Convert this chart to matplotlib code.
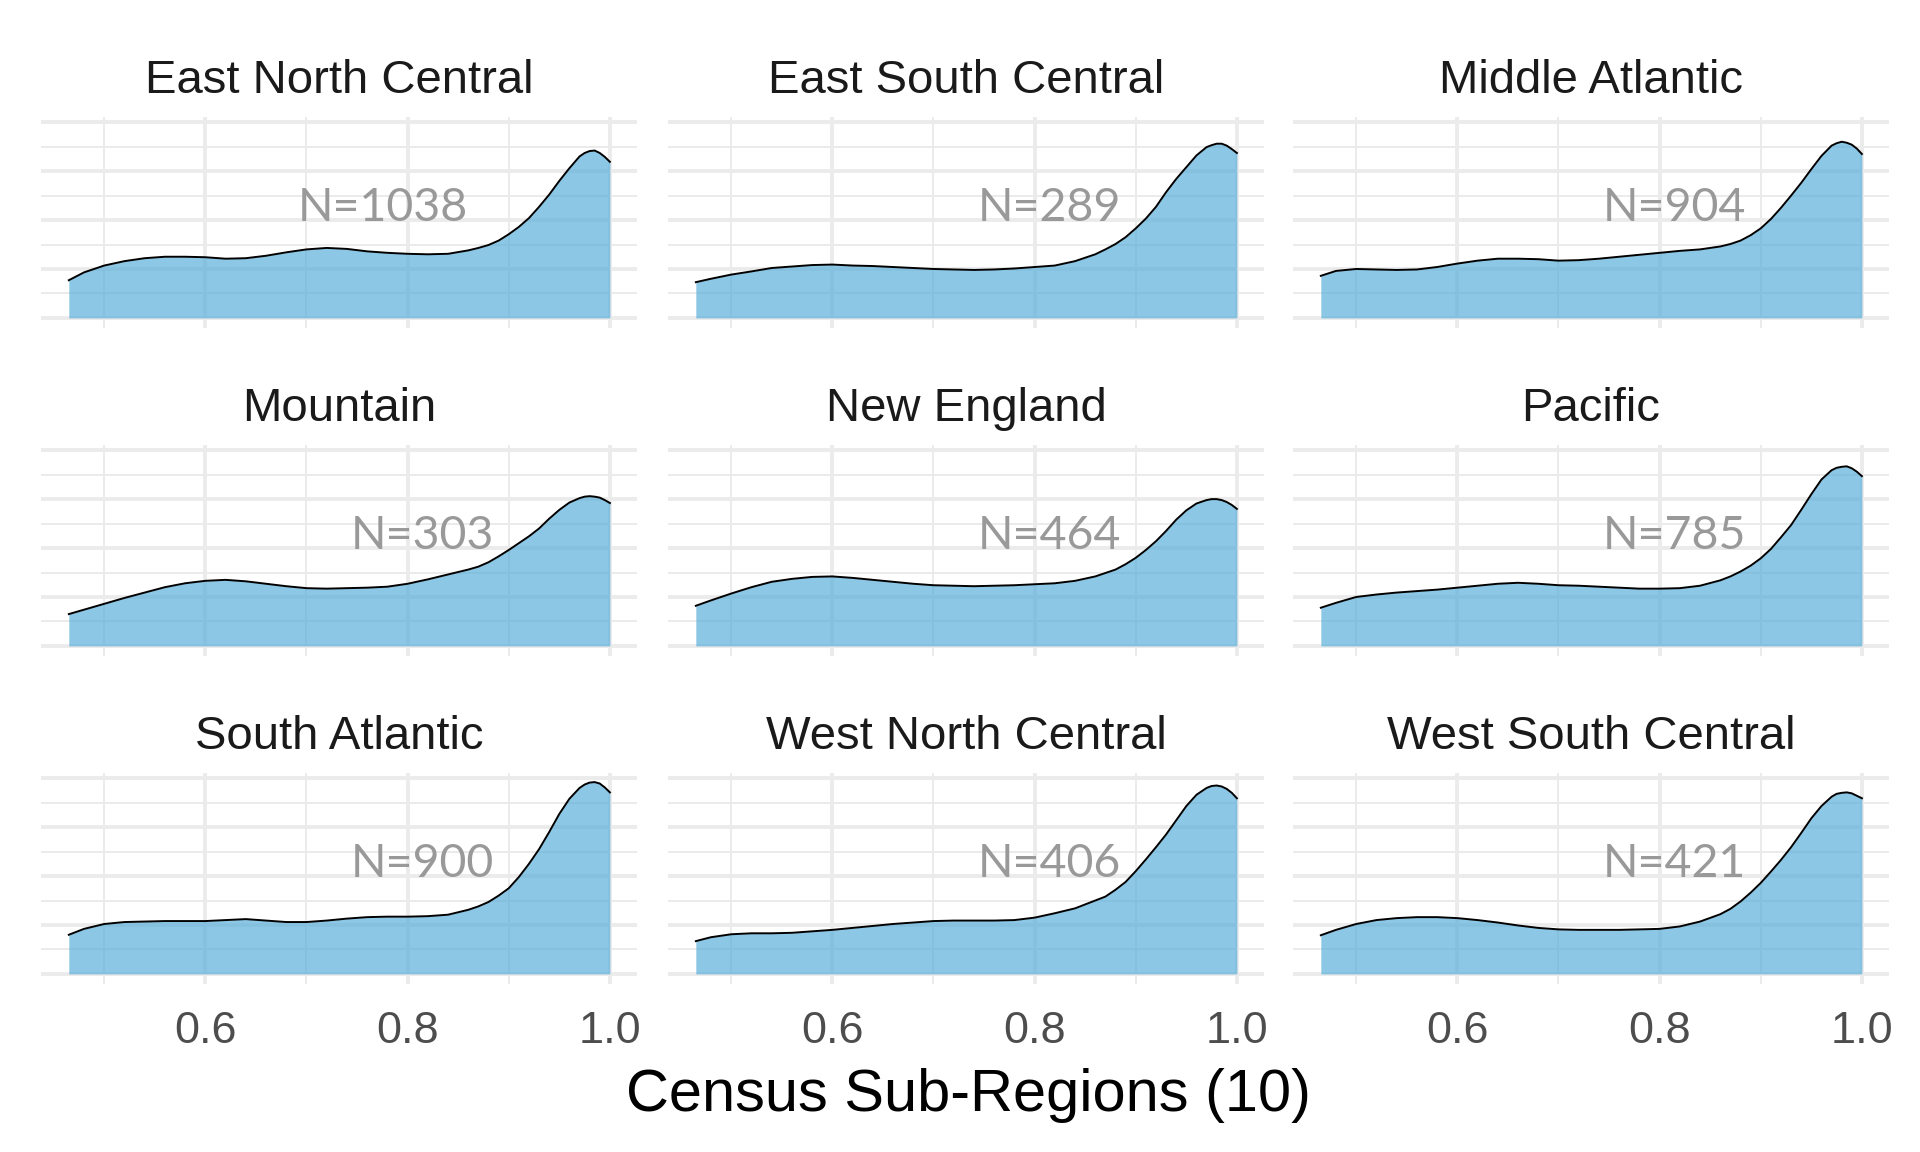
import matplotlib
matplotlib.use("Agg")
import matplotlib.pyplot as plt

regions = ["East North Central", "East South Central", "Middle Atlantic",
           "Mountain", "New England", "Pacific",
           "South Atlantic", "West North Central", "West South Central"]
counts = [1038, 289, 904, 303, 464, 785, 900, 406, 421]

x_pts = [0.465, 0.48, 0.50, 0.52, 0.54, 0.56, 0.58, 0.60, 0.62, 0.64, 0.66,
         0.68, 0.70, 0.72, 0.74, 0.76, 0.78, 0.80, 0.82, 0.84, 0.86, 0.87,
         0.88, 0.89, 0.90, 0.91, 0.92, 0.93, 0.94, 0.95, 0.96, 0.97, 0.975,
         0.98, 0.985, 0.99, 0.995, 1.0]

enc = [0.77, 0.93, 1.07, 1.16, 1.22, 1.25, 1.25, 1.24, 1.21, 1.22, 1.27,
       1.34, 1.40, 1.43, 1.41, 1.36, 1.33, 1.31, 1.30, 1.31, 1.38, 1.43,
       1.49, 1.58, 1.71, 1.86, 2.04, 2.27, 2.52, 2.80, 3.06, 3.30, 3.37,
       3.41, 3.42, 3.37, 3.29, 3.19]
esc = [0.73, 0.80, 0.885, 0.95, 1.02, 1.05, 1.08, 1.09, 1.07, 1.06, 1.04,
       1.02, 1.00, 0.99, 0.98, 0.99, 1.01, 1.04, 1.07, 1.16, 1.30, 1.40,
       1.51, 1.65, 1.83, 2.03, 2.27, 2.57, 2.84, 3.08, 3.32, 3.49, 3.53,
       3.56, 3.56, 3.52, 3.45, 3.37]
mat = [0.86, 0.96, 1.00, 0.99, 0.98, 0.99, 1.04, 1.11, 1.17, 1.21, 1.21,
       1.20, 1.17, 1.18, 1.21, 1.25, 1.29, 1.33, 1.37, 1.40, 1.46, 1.51,
       1.58, 1.69, 1.83, 2.02, 2.25, 2.50, 2.76, 3.04, 3.31, 3.52, 3.57,
       3.60, 3.58, 3.54, 3.46, 3.35]
mtn = [0.65, 0.74, 0.86, 0.98, 1.09, 1.20, 1.28, 1.33, 1.35, 1.32, 1.27,
       1.22, 1.18, 1.17, 1.18, 1.19, 1.21, 1.27, 1.36, 1.46, 1.56, 1.62,
       1.71, 1.83, 1.96, 2.10, 2.24, 2.40, 2.60, 2.78, 2.93, 3.02, 3.05,
       3.06, 3.05, 3.03, 2.98, 2.92]
nen = [0.82, 0.93, 1.07, 1.20, 1.31, 1.37, 1.41, 1.42, 1.39, 1.35, 1.31,
       1.27, 1.24, 1.23, 1.22, 1.23, 1.24, 1.26, 1.28, 1.33, 1.42, 1.49,
       1.56, 1.67, 1.80, 1.96, 2.14, 2.35, 2.58, 2.77, 2.91, 2.98, 3.00,
       3.00, 2.98, 2.94, 2.88, 2.80]
pac = [0.78, 0.88, 1.00, 1.05, 1.09, 1.12, 1.15, 1.19, 1.23, 1.27, 1.29,
       1.27, 1.24, 1.23, 1.21, 1.19, 1.17, 1.17, 1.18, 1.23, 1.34, 1.42,
       1.52, 1.64, 1.79, 1.98, 2.22, 2.47, 2.78, 3.10, 3.40, 3.59, 3.64,
       3.66, 3.67, 3.63, 3.56, 3.47]
sat = [0.80, 0.92, 1.02, 1.06, 1.07, 1.08, 1.08, 1.08, 1.10, 1.12, 1.09,
       1.06, 1.06, 1.09, 1.13, 1.16, 1.17, 1.17, 1.18, 1.21, 1.31, 1.38,
       1.47, 1.60, 1.75, 1.98, 2.25, 2.55, 2.90, 3.27, 3.58, 3.80, 3.87,
       3.91, 3.92, 3.89, 3.81, 3.71]
wnc = [0.67, 0.75, 0.81, 0.83, 0.83, 0.84, 0.87, 0.90, 0.94, 0.98, 1.02,
       1.05, 1.08, 1.09, 1.09, 1.09, 1.10, 1.15, 1.24, 1.34, 1.50, 1.58,
       1.72, 1.88, 2.10, 2.34, 2.59, 2.85, 3.14, 3.43, 3.66, 3.80, 3.84,
       3.85, 3.83, 3.78, 3.70, 3.59]
wsc = [0.79, 0.90, 1.02, 1.10, 1.14, 1.16, 1.16, 1.14, 1.10, 1.05, 0.99,
       0.94, 0.91, 0.90, 0.90, 0.90, 0.91, 0.92, 0.97, 1.07, 1.22, 1.33,
       1.48, 1.66, 1.86, 2.09, 2.33, 2.59, 2.88, 3.18, 3.43, 3.62, 3.68,
       3.70, 3.71, 3.69, 3.64, 3.59]

densities = [enc, esc, mat, mtn, nen, pac, sat, wnc, wsc]

# where the N= labels sit (centre x, baseline y) in data units
label_x = [0.776, 0.815, 0.815, 0.815, 0.815, 0.815, 0.815, 0.815, 0.815]
label_y = 1.98

W, H = 1920, 1152
fig = plt.figure(figsize=(W / 100, H / 100), dpi=100)

col_left = [41, 668, 1293]
row_top = [116.5, 444.5, 772.5]
pw, ph = 596, 211

fill = "#4FAAD9"
grid_c = "#EBEBEB"

for i, name in enumerate(regions):
    r, c = divmod(i, 3)
    ax = fig.add_axes([col_left[c] / W, 1 - (row_top[r] + ph) / H, pw / W, ph / H])
    ax.fill_between(x_pts, 0, densities[i], color=fill, alpha=0.65, lw=0, zorder=2)
    ax.plot(x_pts, densities[i], color="black", lw=1.4, zorder=3)
    ax.set_xlim(0.4375, 1.0268)
    ax.set_ylim(-0.196, 4.116)
    ax.set_xticks([0.6, 0.8, 1.0])
    ax.set_xticks([0.5, 0.7, 0.9], minor=True)
    ax.set_yticks([0, 1, 2, 3, 4])
    ax.set_yticks([0.5, 1.5, 2.5, 3.5], minor=True)
    ax.grid(which="major", color=grid_c, lw=2.8, zorder=0)
    ax.grid(which="minor", color=grid_c, lw=1.4, zorder=0)
    ax.set_axisbelow(True)
    for s in ax.spines.values():
        s.set_visible(False)
    ax.tick_params(which="both", length=0, labelleft=False)
    if r == 2:
        ax.set_xticklabels(["0.6", "0.8", "1.0"], fontsize=32.5,
                           family="Liberation Sans", color="#4D4D4D")
        ax.tick_params(axis="x", pad=20)
    else:
        ax.tick_params(axis="x", labelbottom=False)
    ax.text(0.5, 1 + 23.5 / ph, name, transform=ax.transAxes, ha="center",
            va="baseline", fontsize=34, family="Liberation Sans", color="#1A1A1A")
    ax.text(label_x[i], label_y, "N={}".format(counts[i]), ha="center",
            va="baseline", fontsize=33.5, family="Lato", color="#999999", zorder=4)

fig.text(968 / W, 1 - 1111 / H, "Census Sub-Regions (10)", ha="center",
         va="baseline", fontsize=42.8, family="Liberation Sans", color="black")

fig.savefig("out.png", dpi=100)
